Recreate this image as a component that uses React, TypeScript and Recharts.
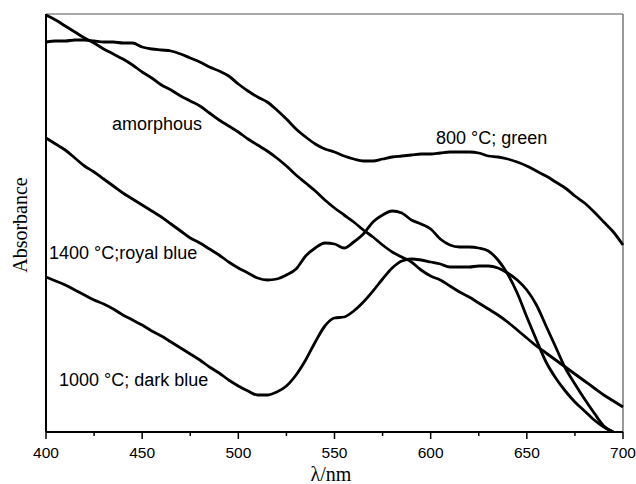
import { LineChart, Line, XAxis, YAxis, ReferenceLine } from 'recharts';

// wavelength grid (nm)
const wavelengths = [
  400, 405, 410, 415, 420, 425, 430, 435, 440, 445, 450,
  455, 460, 465, 470, 475, 480, 485, 490, 495, 500,
  505, 510, 515, 520, 525, 530, 535, 540, 545, 550,
  555, 560, 565, 570, 575, 580, 585, 590, 595, 600,
  605, 610, 615, 620, 625, 630, 635, 640, 645, 650,
  655, 660, 665, 670, 675, 680, 685, 690, 695, 700,
];

// absorbance, arbitrary units
const amorphous = [
  417, 412, 406, 400, 394, 389, 383, 378, 373, 367, 360,
  354, 347, 342, 336, 331, 326, 319, 312, 306, 300,
  293, 287, 281, 274, 266, 257, 249, 241, 232, 224,
  217, 210, 202, 195, 187, 180, 175, 170, 162, 156,
  152, 146, 140, 135, 129, 123, 117, 110, 102, 94,
  86, 79, 72, 65, 58, 51, 44, 37, 31, 25,
];

const green800 = [
  390, 391, 391, 392, 392, 391, 390, 390, 389, 389, 385,
  383, 382, 381, 378, 374, 370, 365, 361, 356, 348,
  341, 335, 330, 322, 313, 303, 295, 288, 283, 280,
  276, 273, 271, 271, 273, 275, 276, 277, 278, 278,
  279, 280, 280, 280, 279, 276, 275, 273, 270, 266,
  261, 256, 250, 244, 236, 229, 220, 210, 200, 187,
];

const royalBlue1400 = [
  294, 288, 282, 274, 266, 260, 253, 246, 239, 233, 227,
  221, 215, 208, 201, 194, 189, 183, 177, 170, 164,
  159, 154, 152, 153, 157, 163, 176, 184, 189, 188,
  184, 190, 198, 210, 217, 221, 219, 212, 208, 203,
  193, 187, 185, 185, 184, 181, 172, 158, 139, 115,
  92, 70, 54, 41, 30, 21, 12, 5, 0, null,
];

const darkBlue1000 = [
  155, 151, 147, 142, 137, 132, 128, 123, 117, 112, 107,
  101, 96, 90, 84, 78, 72, 65, 59, 52, 46,
  41, 37, 37, 40, 46, 57, 72, 90, 106, 114,
  115, 121, 130, 141, 153, 164, 171, 173, 172, 170,
  168, 165, 165, 165, 166, 166, 164, 159, 152, 142,
  127, 106, 85, 64, 48, 33, 19, 6, 0, null,
];

const xTicks = [400, 425, 450, 475, 500, 525, 550, 575, 600, 625, 650, 675, 700];

const data = wavelengths.map((w, i) => ({
  w,
  amorphous: amorphous[i],
  green800: green800[i],
  royalBlue1400: royalBlue1400[i],
  darkBlue1000: darkBlue1000[i],
}));

const sans = '"Liberation Sans", Arial, Helvetica, sans-serif';
const serif = '"Liberation Serif", "Times New Roman", serif';

function XTick({ x, y, payload }: { x?: number; y?: number; payload?: { value: number } }) {
  const v = payload?.value ?? 0;
  const major = v % 50 === 0;
  return (
    <g>
      <line x1={x} x2={x} y1={y} y2={(y ?? 0) + (major ? 7 : 4)} stroke="#000" strokeWidth={1.5} />
      {major && (
        <text x={x} y={(y ?? 0) + 26} textAnchor="middle" fontSize={15.5} fontFamily={sans} fill="#000">
          {v}
        </text>
      )}
    </g>
  );
}

const series = ['amorphous', 'green800', 'royalBlue1400', 'darkBlue1000'];

export default function App() {
  return (
    <div style={{ position: 'absolute', left: 0, top: 0, width: 636, height: 484, background: '#fff' }}>
      <LineChart width={636} height={484} data={data} margin={{ top: 14, right: 13, bottom: 0, left: 46 }}>
        <XAxis
          dataKey="w"
          type="number"
          domain={[400, 700]}
          ticks={xTicks}
          interval={0}
          height={52}
          tickSize={0}
          tickMargin={0}
          tickLine={false}
          axisLine={{ stroke: '#000', strokeWidth: 2 }}
          tick={<XTick />}
        />
        <YAxis type="number" domain={[0, 418]} allowDataOverflow hide />
        {/* plot frame */}
        <ReferenceLine x={400} stroke="#000" strokeWidth={2} />
        <ReferenceLine x={700} stroke="#555" strokeWidth={1.2} />
        <ReferenceLine y={418} stroke="#555" strokeWidth={1.2} />
        {series.map((k) => (
          <Line
            key={k}
            type="monotone"
            dataKey={k}
            stroke="#000"
            strokeWidth={2.8}
            dot={false}
            activeDot={false}
            isAnimationActive={false}
          />
        ))}
      </LineChart>
      <svg
        width={636}
        height={484}
        style={{ position: 'absolute', left: 0, top: 0, pointerEvents: 'none' }}
      >
        <g fontFamily={sans} fontSize={18} fill="#000">
          <text x={112} y={130}>amorphous</text>
          <text x={436} y={144}>800 °C; green</text>
          <text x={49} y={259}>1400 °C;royal blue</text>
          <text x={59} y={386}>1000 °C; dark blue</text>
        </g>
        <text
          transform="translate(27,225) rotate(-90)"
          textAnchor="middle"
          fontFamily={serif}
          fontSize={20}
          fill="#000"
        >
          Absorbance
        </text>
        <text x={331} y={481} textAnchor="middle" fontFamily={serif} fontSize={20} fill="#000">
          λ/nm
        </text>
      </svg>
    </div>
  );
}
